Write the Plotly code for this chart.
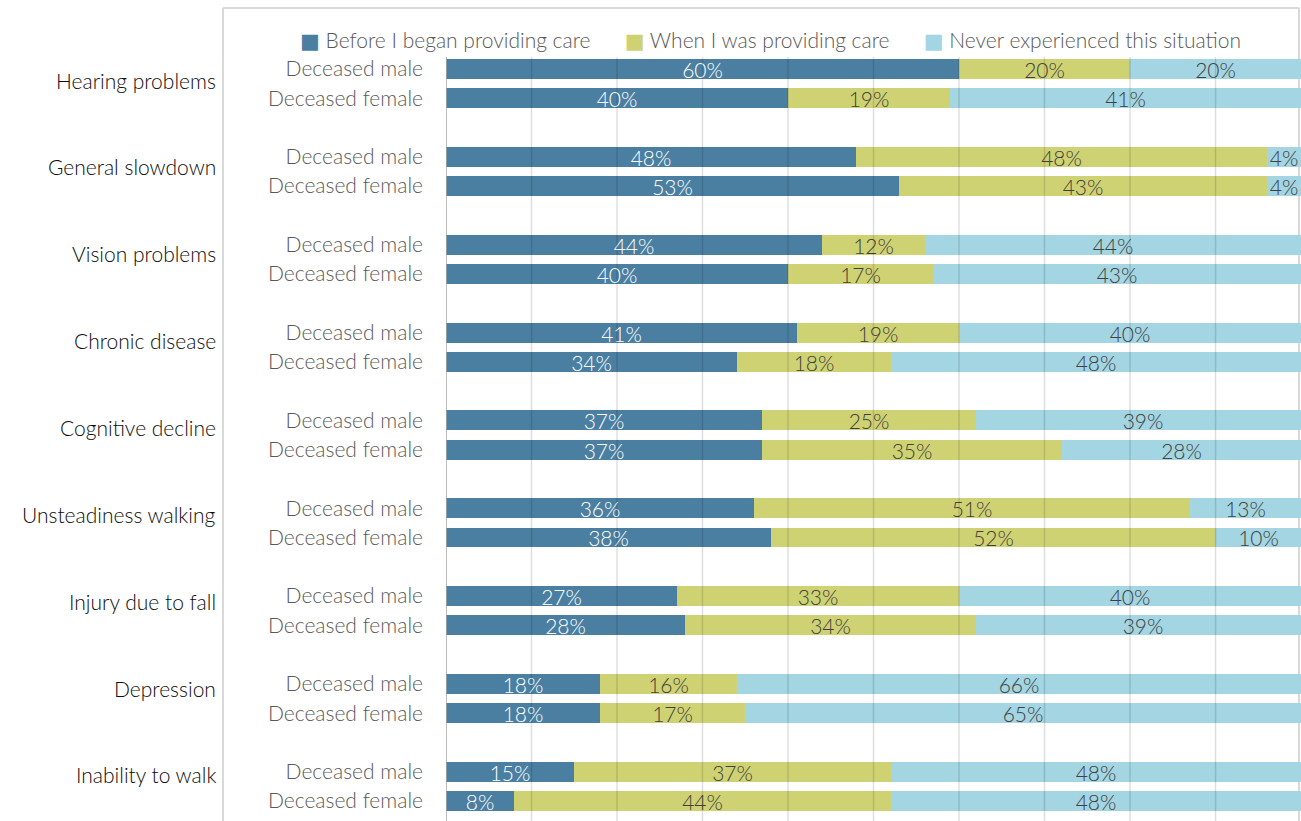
import plotly.graph_objects as go

# Conditions (top to bottom)
conditions = [
    "Hearing problems", "General slowdown", "Vision problems", "Chronic disease",
    "Cognitive decline", "Unsteadiness walking", "Injury due to fall",
    "Depression", "Inability to walk",
]
groups = ["Deceased male", "Deceased female"]
series_names = [
    "Before I began providing care",
    "When I was providing care",
    "Never experienced this situation",
]

# Percentages per condition: (male, female)
before_male = [60, 48, 44, 41, 37, 36, 27, 18, 15]
before_female = [40, 53, 40, 34, 37, 38, 28, 18, 8]
during_male = [20, 48, 12, 19, 25, 51, 33, 16, 37]
during_female = [19, 43, 17, 18, 35, 52, 34, 17, 44]
never_male = [20, 4, 44, 40, 39, 13, 40, 66, 48]
never_female = [41, 4, 43, 48, 28, 10, 39, 65, 48]

colors = ["#4a7fa1", "#cfd273", "#a3d5e2"]
text_colors = ["#ffffff", "#404040", "#404040"]
FONT = "Lato"
FS = 21
LIGHT = 300

# Each condition occupies three rows: male, female, spacer
y_pos, tick_text = [], []
for i in range(len(conditions)):
    y_pos += [3 * i, 3 * i + 1]
    tick_text += groups


def interleave(m, f):
    out = []
    for a, b in zip(m, f):
        out += [a, b]
    return out


series_values = [
    interleave(before_male, before_female),
    interleave(during_male, during_female),
    interleave(never_male, never_female),
]

fig = go.Figure()
for name, vals, col, tcol in zip(series_names, series_values, colors, text_colors):
    fig.add_trace(go.Bar(
        name=name, y=y_pos, x=vals, orientation="h", width=0.68,
        marker=dict(color=col, line=dict(width=0)),
        text=[f"{v}%" for v in vals], textposition="inside",
        insidetextanchor="middle", constraintext="none",
        textfont=dict(family=FONT, size=FS, color=tcol, weight=LIGHT),
        hoverinfo="skip", showlegend=False,
    ))

W, H = 1301, 821
ML, MT = 446, 57
plot_w, plot_h = W - ML, H - MT


def px_x(p):
    return (p - ML) / plot_w


def px_y(p):
    return 1 - (p - MT) / plot_h


shapes = []
# outer chart frame
frame = dict(color="#d9d9d9", width=2)
shapes.append(dict(type="line", xref="paper", yref="paper", x0=px_x(223), x1=px_x(223),
                   y0=-0.05, y1=px_y(8), line=frame, layer="below"))
shapes.append(dict(type="line", xref="paper", yref="paper", x0=px_x(223), x1=px_x(1299),
                   y0=px_y(8), y1=px_y(8), line=frame, layer="below"))
shapes.append(dict(type="line", xref="paper", yref="paper", x0=px_x(1299), x1=px_x(1299),
                   y0=-0.05, y1=px_y(8), line=frame, layer="below"))
# vertical gridlines drawn over the bars
for gx in range(10, 100, 10):
    shapes.append(dict(type="line", xref="x", yref="paper", x0=gx, x1=gx, y0=0, y1=1,
                       line=dict(color="rgba(0,0,0,0.13)", width=1.5), layer="above"))
shapes.append(dict(type="line", xref="x", yref="paper", x0=0, x1=0, y0=0, y1=1,
                   line=dict(color="#a6a6a6", width=1.5), layer="above"))

# condition labels on the outer category level
annotations = []
for i, c in enumerate(conditions):
    annotations.append(dict(
        text=c, xref="paper", x=px_x(218), xanchor="right",
        yref="y", y=0.38 + 2.966 * i, yanchor="middle", showarrow=False,
        font=dict(family=FONT, size=FS, color="#0d0d0d", weight=LIGHT),
    ))

# legend row: coloured squares followed by series names
sq = ("<span style='color:{c};font-family:DejaVu Sans;font-weight:400;"
      "font-size:21px'>\u25A0</span>")
gap = "&nbsp;" * 6
legend_text = gap.join(sq.format(c=c) + "&nbsp;" + n for c, n in zip(colors, series_names))
annotations.append(dict(
    text=legend_text, xref="paper", x=px_x(770), xanchor="center",
    yref="paper", y=px_y(40), yanchor="middle", showarrow=False,
    font=dict(family=FONT, size=FS, color="#595959", weight=LIGHT),
))

fig.update_layout(
    width=W, height=H, margin=dict(l=ML, r=0, t=MT, b=0),
    paper_bgcolor="white", plot_bgcolor="white",
    barmode="stack", bargap=0, showlegend=False,
    shapes=shapes, annotations=annotations,
    font=dict(family=FONT, size=FS, color="#595959", weight=LIGHT),
    xaxis=dict(range=[0, 100], showgrid=False, zeroline=False, showticklabels=False,
               showline=False, fixedrange=True),
    yaxis=dict(range=[25.68, -0.41], tickvals=y_pos, ticktext=tick_text,
               showgrid=False, zeroline=False, showline=False, ticks="",
               ticklabelstandoff=22,
               tickfont=dict(family=FONT, size=FS, color="#595959", weight=LIGHT)),
)

fig.write_html("out.html")
